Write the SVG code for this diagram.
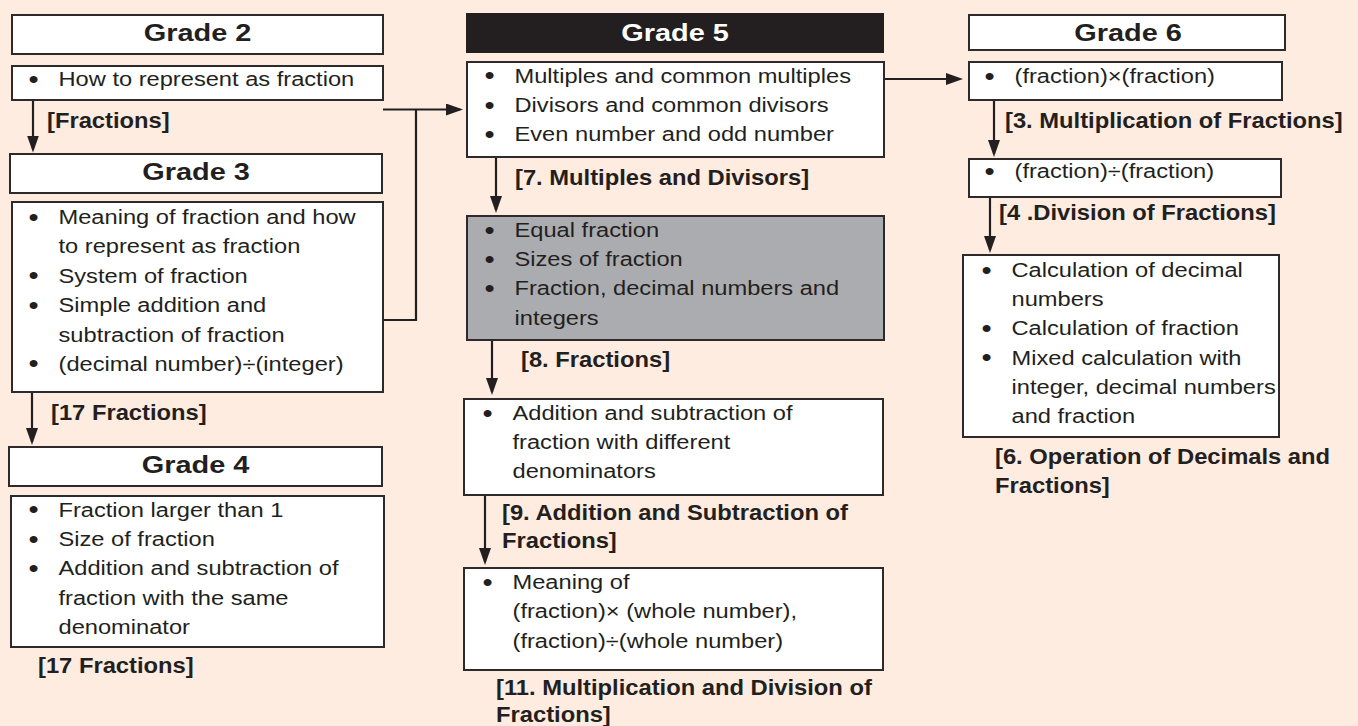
<svg xmlns="http://www.w3.org/2000/svg" width="1358" height="726" viewBox="0 0 1358 726">
<style>
  .bg { fill: #fdecdf; }
  .box { fill: #ffffff; stroke: #2e2a2b; stroke-width: 2; }
  .gray { fill: #abacb0; stroke: #2e2a2b; stroke-width: 2; }
  .dark { fill: #231f20; stroke: #231f20; stroke-width: 2; }
  .hd { font-family: "Liberation Sans", Arial, sans-serif; font-weight: bold; font-size: 24.5px; fill: #231f20; text-anchor: middle; }
  .hdw { fill: #ffffff; }
  .r { font-family: "Liberation Sans", Arial, sans-serif; font-size: 20.4px; fill: #231f20; }
  .b { font-size: 25px; }
  .lb { font-family: "Liberation Sans", Arial, sans-serif; font-weight: bold; font-size: 22px; fill: #231f20; }
  .ln { fill: none; stroke: #231f20; stroke-width: 2.2; }
  .ar { fill: none; stroke: #231f20; stroke-width: 2.2; marker-end: url(#ah); }
</style>
<defs>
  <marker id="ah" markerUnits="userSpaceOnUse" markerWidth="18" markerHeight="13" refX="14" refY="6" orient="auto">
    <path d="M0,0 L17,6 L0,12 z" fill="#231f20"/>
  </marker>
</defs>
<rect class="bg" x="0" y="0" width="1358" height="726"/>

<g id="connectors">
  <line class="ar" x1="33" y1="100" x2="33" y2="149.5"/>
  <line class="ar" x1="32" y1="392" x2="32" y2="442"/>
  <line class="ar" x1="383" y1="109.5" x2="460" y2="109.5"/>
  <polyline class="ln" points="383,320 416,320 416,109.5"/>
  <line class="ar" x1="496" y1="157" x2="496" y2="210"/>
  <line class="ar" x1="492" y1="340" x2="492" y2="392"/>
  <line class="ar" x1="485" y1="495" x2="485" y2="562"/>
  <line class="ar" x1="884" y1="79" x2="960" y2="79"/>
  <line class="ar" x1="994" y1="100" x2="994" y2="154"/>
  <line class="ar" x1="990" y1="197" x2="990" y2="250"/>
</g>

<g id="grade2-header">
  <rect class="box" x="12" y="15" width="371" height="39"/>
  <text class="hd" transform="translate(197.5,41) scale(1.18,1)">Grade 2</text>
</g>
<g id="grade2-content">
  <rect class="box" x="12" y="66" width="371" height="34"/>
  <text class="r" transform="translate(58.5,86) scale(1.16,1)"><tspan class="b" x="-25.8" y="1.5">•</tspan><tspan x="0" y="0">How to represent as fraction</tspan></text>
</g>
<g id="label-fractions">
  <text class="lb" transform="translate(47,128) scale(1.08,1)">[Fractions]</text>
</g>

<g id="grade3-header">
  <rect class="box" x="10" y="154" width="372" height="39"/>
  <text class="hd" transform="translate(196,180) scale(1.18,1)">Grade 3</text>
</g>
<g id="grade3-content">
  <rect class="box" x="12" y="202" width="371" height="190"/>
  <text class="r" transform="translate(58.5,224) scale(1.16,1)">
    <tspan class="b" x="-25.8" y="1.5">•</tspan><tspan x="0" y="0">Meaning of fraction and how</tspan>
    <tspan x="0" y="29.4">to represent as fraction</tspan>
    <tspan class="b" x="-25.8" y="60.3">•</tspan><tspan x="0" y="58.8">System of fraction</tspan>
    <tspan class="b" x="-25.8" y="89.7">•</tspan><tspan x="0" y="88.2">Simple addition and</tspan>
    <tspan x="0" y="117.6">subtraction of fraction</tspan>
    <tspan class="b" x="-25.8" y="148.5">•</tspan><tspan x="0" y="147">(decimal number)÷(integer)</tspan>
  </text>
</g>
<g id="label-17-fractions-a">
  <text class="lb" transform="translate(51,420) scale(1.08,1)">[17 Fractions]</text>
</g>

<g id="grade4-header">
  <rect class="box" x="9" y="447" width="373" height="39"/>
  <text class="hd" transform="translate(195.5,473) scale(1.18,1)">Grade 4</text>
</g>
<g id="grade4-content">
  <rect class="box" x="11" y="496" width="373" height="151"/>
  <text class="r" transform="translate(58.5,516.7) scale(1.16,1)">
    <tspan class="b" x="-25.8" y="1.5">•</tspan><tspan x="0" y="0">Fraction larger than 1</tspan>
    <tspan class="b" x="-25.8" y="30.9">•</tspan><tspan x="0" y="29.4">Size of fraction</tspan>
    <tspan class="b" x="-25.8" y="60.3">•</tspan><tspan x="0" y="58.8">Addition and subtraction of</tspan>
    <tspan x="0" y="88.2">fraction with the same</tspan>
    <tspan x="0" y="117.6">denominator</tspan>
  </text>
</g>
<g id="label-17-fractions-b">
  <text class="lb" transform="translate(38,673) scale(1.08,1)">[17 Fractions]</text>
</g>

<g id="grade5-header">
  <rect class="dark" x="467" y="14" width="416" height="38"/>
  <text class="hd hdw" transform="translate(675,41) scale(1.18,1)">Grade 5</text>
</g>
<g id="grade5-multiples">
  <rect class="box" x="467" y="62" width="417" height="95"/>
  <text class="r" transform="translate(514.5,82.7) scale(1.16,1)">
    <tspan class="b" x="-25.8" y="1.5">•</tspan><tspan x="0" y="0">Multiples and common multiples</tspan>
    <tspan class="b" x="-25.8" y="30.9">•</tspan><tspan x="0" y="29.4">Divisors and common divisors</tspan>
    <tspan class="b" x="-25.8" y="60.3">•</tspan><tspan x="0" y="58.8">Even number and odd number</tspan>
  </text>
</g>
<g id="label-7">
  <text class="lb" transform="translate(515,185) scale(1.08,1)">[7. Multiples and Divisors]</text>
</g>
<g id="grade5-fractions">
  <rect class="gray" x="467" y="216" width="417" height="124"/>
  <text class="r" transform="translate(514.5,237) scale(1.16,1)">
    <tspan class="b" x="-25.8" y="1.5">•</tspan><tspan x="0" y="0">Equal fraction</tspan>
    <tspan class="b" x="-25.8" y="30.7">•</tspan><tspan x="0" y="29.2">Sizes of fraction</tspan>
    <tspan class="b" x="-25.8" y="59.9">•</tspan><tspan x="0" y="58.4">Fraction, decimal numbers and</tspan>
    <tspan x="0" y="87.6">integers</tspan>
  </text>
</g>
<g id="label-8">
  <text class="lb" transform="translate(521,367) scale(1.08,1)">[8. Fractions]</text>
</g>
<g id="grade5-addition">
  <rect class="box" x="464" y="399" width="419" height="96"/>
  <text class="r" transform="translate(512.5,420) scale(1.16,1)">
    <tspan class="b" x="-25.8" y="1.5">•</tspan><tspan x="0" y="0">Addition and subtraction of</tspan>
    <tspan x="0" y="29.2">fraction with different</tspan>
    <tspan x="0" y="58.4">denominators</tspan>
  </text>
</g>
<g id="label-9">
  <text class="lb" transform="translate(502,520) scale(1.08,1)"><tspan x="0" y="0">[9. Addition and Subtraction of</tspan><tspan x="0" y="28.5">Fractions]</tspan></text>
</g>
<g id="grade5-multdiv">
  <rect class="box" x="464" y="568" width="419" height="102"/>
  <text class="r" transform="translate(512.5,589) scale(1.16,1)">
    <tspan class="b" x="-25.8" y="1.5">•</tspan><tspan x="0" y="0">Meaning of</tspan>
    <tspan x="0" y="29.4">(fraction)× (whole number),</tspan>
    <tspan x="0" y="58.8">(fraction)÷(whole number)</tspan>
  </text>
</g>
<g id="label-11">
  <text class="lb" transform="translate(496,695) scale(1.08,1)"><tspan x="0" y="0">[11. Multiplication and Division of</tspan><tspan x="0" y="27.5">Fractions]</tspan></text>
</g>

<g id="grade6-header">
  <rect class="box" x="969" y="15" width="316" height="35"/>
  <text class="hd" transform="translate(1128,41) scale(1.18,1)">Grade 6</text>
</g>
<g id="grade6-mult">
  <rect class="box" x="969" y="62" width="313" height="38"/>
  <text class="r" transform="translate(1014.5,83) scale(1.16,1)"><tspan class="b" x="-25.8" y="1.5">•</tspan><tspan x="0" y="0">(fraction)×(fraction)</tspan></text>
</g>
<g id="label-3">
  <text class="lb" transform="translate(1005,128) scale(1.08,1)">[3. Multiplication of Fractions]</text>
</g>
<g id="grade6-div">
  <rect class="box" x="969" y="159" width="312" height="38"/>
  <text class="r" transform="translate(1014.5,178) scale(1.16,1)"><tspan class="b" x="-25.8" y="1.5">•</tspan><tspan x="0" y="0">(fraction)÷(fraction)</tspan></text>
</g>
<g id="label-4">
  <text class="lb" transform="translate(999,220) scale(1.08,1)">[4 .Division of Fractions]</text>
</g>
<g id="grade6-calc">
  <rect class="box" x="963" y="255" width="316" height="182"/>
  <text class="r" transform="translate(1011.5,277) scale(1.16,1)">
    <tspan class="b" x="-25.8" y="1.5">•</tspan><tspan x="0" y="0">Calculation of decimal</tspan>
    <tspan x="0" y="29.2">numbers</tspan>
    <tspan class="b" x="-25.8" y="59.9">•</tspan><tspan x="0" y="58.4">Calculation of fraction</tspan>
    <tspan class="b" x="-25.8" y="89.1">•</tspan><tspan x="0" y="87.6">Mixed calculation with</tspan>
    <tspan x="0" y="116.8">integer, decimal numbers</tspan>
    <tspan x="0" y="146">and fraction</tspan>
  </text>
</g>
<g id="label-6">
  <text class="lb" transform="translate(995,464) scale(1.08,1)"><tspan x="0" y="0">[6. Operation of Decimals and</tspan><tspan x="0" y="29">Fractions]</tspan></text>
</g>
</svg>
